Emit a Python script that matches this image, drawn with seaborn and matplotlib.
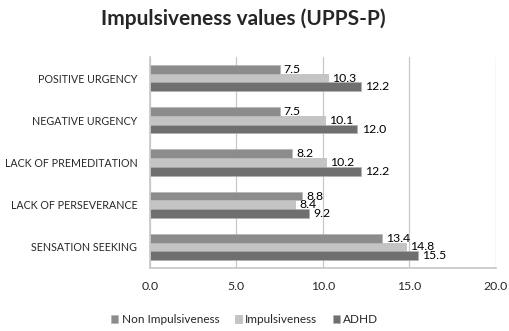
import pandas as pd
import matplotlib.pyplot as plt
import seaborn as sns

sns.set_theme(style="white")
plt.rcParams['font.family'] = ['Lato', 'DejaVu Sans']

categories = ['POSITIVE URGENCY', 'NEGATIVE URGENCY', 'LACK OF PREMEDITATION',
              'LACK OF PERSEVERANCE', 'SENSATION SEEKING']
groups = ['Non Impulsiveness', 'Impulsiveness', 'ADHD']
non_impulsiveness = [7.5, 7.5, 8.2, 8.8, 13.4]
impulsiveness = [10.3, 10.1, 10.2, 8.4, 14.8]
adhd = [12.2, 12.0, 12.2, 9.2, 15.5]
colors = ['#8c8c8c', '#c4c4c4', '#6f6f6f']

df = pd.DataFrame({
    'Scale': categories * 3,
    'Group': [groups[0]] * 5 + [groups[1]] * 5 + [groups[2]] * 5,
    'Value': non_impulsiveness + impulsiveness + adhd,
})

fig = plt.figure(figsize=(5.10, 3.31), dpi=100)
ax = fig.add_axes([0.294, 0.19, 0.678, 0.638])

sns.barplot(data=df, x='Value', y='Scale', hue='Group', order=categories,
            hue_order=groups, palette=colors, orient='h', width=0.62,
            gap=0, saturation=1, edgecolor='#b0b0b0', linewidth=0.4, ax=ax)

for cont in ax.containers:
    ax.bar_label(cont, fmt='%.1f', padding=3, fontsize=8.8, color='black')

ax.set_xlim(0, 20)
ax.set_xticks([0, 5, 10, 15, 20])
ax.set_xticklabels(['0.0', '5.0', '10.0', '15.0', '20.0'])
ax.xaxis.grid(True, color='#c8c8c8', linewidth=0.9)
ax.set_axisbelow(True)
ax.set_xlabel('')
ax.set_ylabel('')
for s in ['top', 'right']:
    ax.spines[s].set_visible(False)
ax.spines['left'].set_color('#c8c8c8')
ax.spines['bottom'].set_color('#c8c8c8')
ax.tick_params(axis='x', labelsize=8.8, pad=9, length=0)
ax.tick_params(axis='y', labelsize=7.7, pad=9, length=0)

fig.suptitle('Impulsiveness values (UPPS-P)', fontsize=15, fontweight='bold',
             x=0.477, y=0.975)

ax.legend_.remove()
handles, labels = ax.get_legend_handles_labels()
fig.legend(handles, labels, loc='lower center', bbox_to_anchor=(0.48, -0.015),
           ncol=3, frameon=False, fontsize=8.5, handlelength=0.6,
           handleheight=0.6, handletextpad=0.3, columnspacing=1.3)

fig.savefig('out.png', dpi=100)
